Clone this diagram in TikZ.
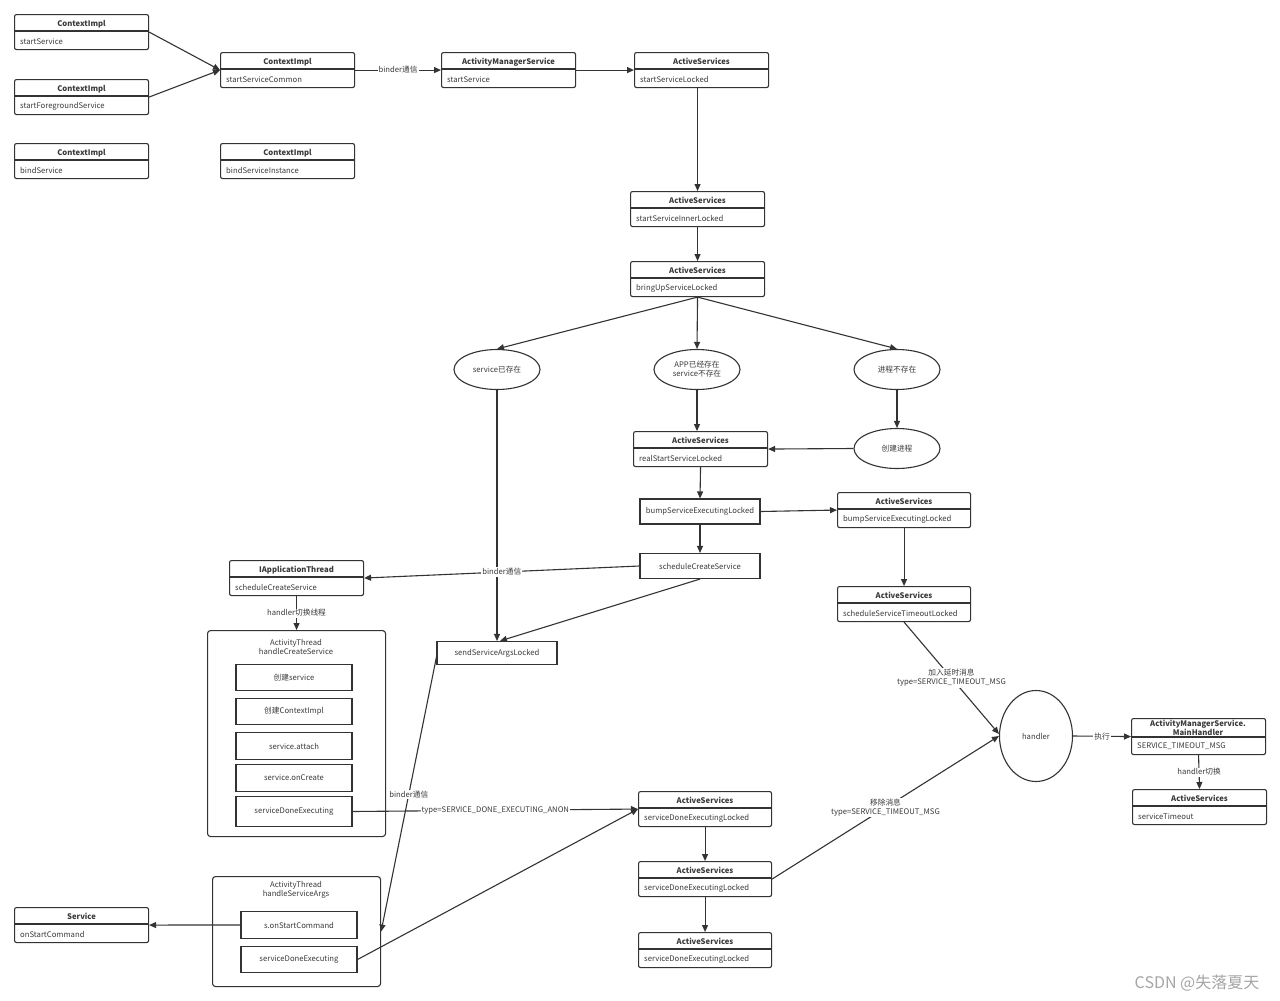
\documentclass[tikz,border=0pt]{standalone}
\usepackage{fontspec}
\setmainfont{Noto Sans CJK SC}
\usetikzlibrary{arrows.meta,shapes.geometric,calc}
\definecolor{ln}{HTML}{333333}
\definecolor{tx}{HTML}{3A3A3A}
\tikzset{
 every node/.style={font=\fontsize{7.7}{9}\selectfont, text=tx},
 cls/.style={draw=ln, line width=1.1pt, rounded corners=2pt, minimum height=35pt, inner sep=0},
 sbox/.style={draw=ln, line width=1.1pt, inner sep=0},
 cont/.style={draw=ln, line width=1.1pt, rounded corners=3pt, inner sep=0},
 ell/.style={ellipse, draw=ln, line width=1.1pt, inner sep=0, align=center},
 hdr/.style={font=\fontsize{7.7}{9}\selectfont\bfseries, inner sep=0, align=center},
 bdy/.style={inner sep=0, anchor=west},
 arr/.style={draw=ln, line width=1.1pt, -{Triangle[length=7pt,width=6pt]}},
 lbl/.style={fill=white, inner sep=1pt, align=center},
 ttl/.style={inner sep=0, align=center},
}
\newcommand\clsbox[6]{%
 \node[cls, minimum width=#4pt, anchor=north west] (#1) at (#2,#3) {};
 \draw[ln, line width=1.1pt] ([yshift=-17pt]#1.north west) -- ([yshift=-17pt]#1.north east);
 \node[hdr] at ([yshift=-9.8pt]#1.north) {#5};
 \node[bdy] at ([xshift=6pt,yshift=-27.3pt]#1.north west) {#6};
}
\begin{document}
\begin{tikzpicture}[x=1pt,y=-1pt]
\fill[white] (0,0) rectangle (1280,1001);
\useasboundingbox (0,0) rectangle (1280,1001);

\clsbox{ci1}{14}{14}{134}{ContextImpl}{startService}
\clsbox{ci2}{14}{79}{134}{ContextImpl}{startForegroundService}
\clsbox{ci3}{14}{143}{134}{ContextImpl}{bindService}
\clsbox{ci4}{220}{52}{134}{ContextImpl}{startServiceCommon}
\clsbox{ci5}{220}{143}{134}{ContextImpl}{bindServiceInstance}
\clsbox{ams}{441}{52}{134}{ActivityManagerService}{startService}
\clsbox{as1}{634}{52}{134}{ActiveServices}{startServiceLocked}
\clsbox{as2}{630}{191}{134}{ActiveServices}{startServiceInnerLocked}
\clsbox{as3}{630}{261}{134}{ActiveServices}{bringUpServiceLocked}

\node[ell, minimum width=86pt, minimum height=40pt] (e1) at (497,369.5) {service已存在};
\node[ell, minimum width=86pt, minimum height=40pt] (e2) at (697,369.5) {APP已经存在\\service不存在};
\node[ell, minimum width=86pt, minimum height=40pt] (e3) at (897,369.5) {进程不存在};
\node[ell, minimum width=86pt, minimum height=40pt] (e4) at (897,448.5) {创建进程};

\clsbox{as4}{633}{431}{134}{ActiveServices}{realStartServiceLocked}
\node[sbox, minimum width=120pt, minimum height=25pt] (bump) at (700,511.5) {bumpServiceExecutingLocked};
\node[sbox, minimum width=120pt, minimum height=25pt] (sched) at (700,566) {scheduleCreateService};
\clsbox{as5}{837}{492}{133}{ActiveServices}{bumpServiceExecutingLocked}
\clsbox{as6}{837}{586}{133}{ActiveServices}{scheduleServiceTimeoutLocked}
\clsbox{iat}{229}{560}{134}{IApplicationThread}{scheduleCreateService}

\node[cont, minimum width=178pt, minimum height=206pt, anchor=north west] (at1) at (207,630) {};
\node[ttl] (at1t) at (296,646.5) {ActivityThread\\handleCreateService};
\node[sbox, minimum width=116pt, minimum height=26pt] (c1) at (294,677.5) {创建service};
\node[sbox, minimum width=116pt, minimum height=26pt] (c2) at (294,711.5) {创建ContextImpl};
\node[sbox, minimum width=116pt, minimum height=27pt] (c3) at (294,746) {service.attach};
\node[sbox, minimum width=116pt, minimum height=27pt] (c4) at (294,778) {service.onCreate};
\node[sbox, minimum width=116pt, minimum height=30pt] (c5) at (294,811.5) {serviceDoneExecuting};

\node[sbox, minimum width=120pt, minimum height=23pt] (ssa) at (497,653) {sendServiceArgsLocked};

\node[ell, minimum width=73pt, minimum height=91pt] (hd) at (1036,736) {handler};
\node[cls, minimum width=134pt, minimum height=36pt, anchor=north west] (mh) at (1131,718) {};
\draw[ln, line width=1.1pt] ([yshift=-19pt]mh.north west) -- ([yshift=-19pt]mh.north east);
\node[hdr] (mht) at (1198,728.3) {ActivityManagerService.\\MainHandler};
\node[bdy] (mhb) at (1137,746.3) {SERVICE\_TIMEOUT\_MSG};
\clsbox{ast}{1132}{789}{134}{ActiveServices}{serviceTimeout}

\clsbox{as7}{638}{791}{133}{ActiveServices}{serviceDoneExecutingLocked}
\clsbox{as8}{638}{861}{133}{ActiveServices}{serviceDoneExecutingLocked}
\clsbox{as9}{638}{932}{133}{ActiveServices}{serviceDoneExecutingLocked}

\node[cont, minimum width=168pt, minimum height=110pt, anchor=north west] (at2) at (212,876) {};
\node[ttl] (at2t) at (296,890.3) {ActivityThread\\handleServiceArgs};
\node[sbox, minimum width=116pt, minimum height=27pt] (d1) at (299,925) {s.onStartCommand};
\node[sbox, minimum width=116pt, minimum height=26pt] (d2) at (299,959.5) {serviceDoneExecuting};
\clsbox{svc}{14}{907}{134}{Service}{onStartCommand}

\node[text=gray!70, font=\fontsize{16}{18}\selectfont] (wm) at (1197,983) {CSDN @失落夏天};

% connectors
\draw[arr] (ci1.east) -- (ci4.west);
\draw[arr] (ci2.east) -- (ci4.west);
\draw[arr] (ci4.east) -- node[lbl]{binder通信} (ams.west);
\draw[arr] (ams.east) -- (as1.west);
\draw[arr] ([xshift=-4pt]as1.south) -- (as2.north);
\draw[arr] (as2.south) -- (as3.north);
\draw[arr] (as3.south) -- (e1.north);
\draw[arr] (as3.south) -- (e2.north);
\draw[arr] (as3.south) -- (e3.north);
\draw[arr] (e1.south) -- (ssa.north);
\draw[arr] (e2.south) -- (e2.south |- as4.north);
\draw[arr] (e3.south) -- (e4.north);
\draw[arr] (e4.west) -- (as4.east);
\draw[arr] (as4.south) -- (bump.north);
\draw[arr] (bump.east) -- (as5.west);
\draw[arr] (bump.south) -- (sched.north);
\draw[arr] (sched.west) -- node[lbl]{binder通信} (iat.east);
\draw[arr] (sched.south) -- ([xshift=3pt]ssa.north);
\draw[arr] (as5.south) -- (as6.north);
\draw[arr] (as6.south) -- node[lbl]{加入延时消息\\type=SERVICE\_TIMEOUT\_MSG} ([yshift=2pt]hd.west);
\draw[arr] (as8.east) -- node[lbl]{移除消息\\type=SERVICE\_TIMEOUT\_MSG} (hd.west);
\draw[arr] (hd.east) -- node[lbl]{执行} (mh.west);
\draw[arr] (mh.south) -- node[lbl]{handler切换} (ast.north);
\draw[arr] (iat.south) -- node[lbl]{handler切换线程} (at1.north);
\draw[arr] (c5.east) -- node[lbl]{type=SERVICE\_DONE\_EXECUTING\_ANON} (as7.west);
\draw[arr] ([yshift=-4pt]ssa.west) -- node[lbl]{binder通信} (at2.east);
\draw[arr] (d2.east) -- (as7.west);
\draw[arr] (as7.south) -- (as8.north);
\draw[arr] (as8.south) -- (as9.north);
\draw[arr] (d1.west) -- (svc.east);
\end{tikzpicture}
\end{document}
